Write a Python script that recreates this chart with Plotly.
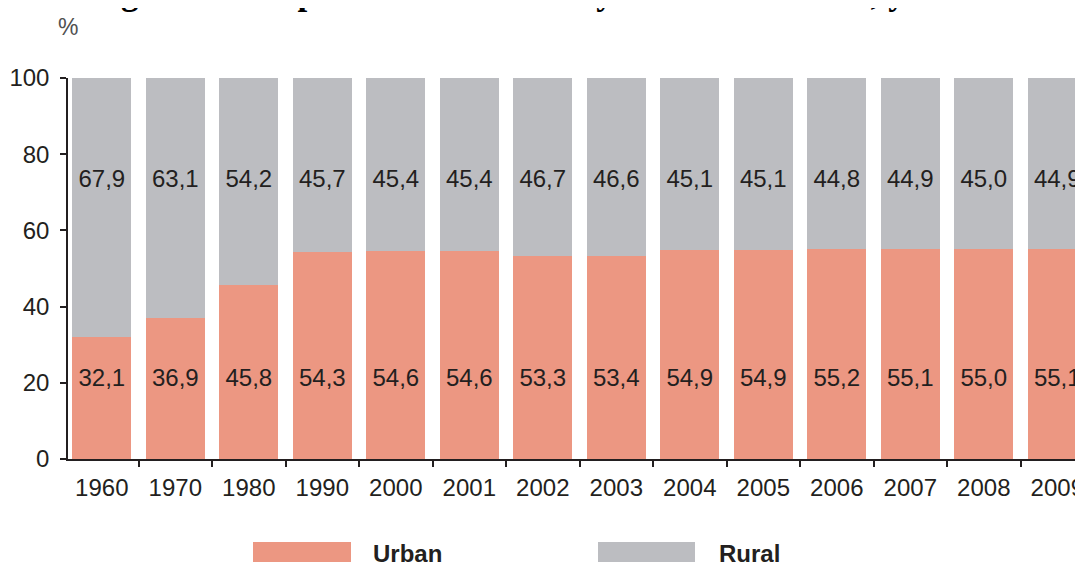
import plotly.graph_objects as go

years = ["1960", "1970", "1980", "1990", "2000", "2001", "2002", "2003",
         "2004", "2005", "2006", "2007", "2008", "2009"]
urban = [32.1, 36.9, 45.8, 54.3, 54.6, 54.6, 53.3, 53.4, 54.9, 54.9, 55.2, 55.1, 55.0, 55.1]
rural = [67.9, 63.1, 54.2, 45.7, 45.4, 45.4, 46.7, 46.6, 45.1, 45.1, 44.8, 44.9, 45.0, 44.9]
y_ticks = [0, 20, 40, 60, 80, 100]

URBAN_COLOR = "#EC9782"
RURAL_COLOR = "#BCBDC1"
TEXT_COLOR = "#231F20"
FONT = "Liberation Sans, Arial, sans-serif"

# the page body has an 8px margin: figure is placed at (8, 8) in the window
OFF = 8
W, H = 1083 - OFF, 562 - OFF
ML, MR, MT = 68 - OFF, 0, 78 - OFF
MB = H - (459 - OFF)
PW = W - ML - MR
PH = H - MT - MB


def fmt(v):
    return f"{v:.1f}".replace(".", ",")


def px_x(p):  # window pixel -> paper
    return (p - OFF - ML) / PW


def px_y(p):  # window pixel -> paper
    return (H - MB - (p - OFF)) / PH


fig = go.Figure()
fig.add_trace(go.Bar(x=years, y=urban, name="Urban", marker=dict(color=URBAN_COLOR, line=dict(width=0))))
fig.add_trace(go.Bar(x=years, y=rural, name="Rural", marker=dict(color=RURAL_COLOR, line=dict(width=0))))

fig.add_trace(go.Scatter(x=years, y=[20.8] * len(years), mode="text",
                         text=[fmt(v) for v in urban],
                         textfont=dict(family=FONT, size=24, color=TEXT_COLOR),
                         hoverinfo="skip"))
fig.add_trace(go.Scatter(x=years, y=[73.0] * len(years), mode="text",
                         text=[fmt(v) for v in rural],
                         textfont=dict(family=FONT, size=24, color=TEXT_COLOR),
                         hoverinfo="skip"))

fig.update_layout(
    width=W, height=H,
    margin=dict(l=ML, r=MR, t=MT, b=MB),
    barmode="stack", bargap=0.2,
    showlegend=False,
    plot_bgcolor="white", paper_bgcolor="white",
    font=dict(family=FONT, size=24, color=TEXT_COLOR),
)

fig.update_xaxes(
    type="category", range=[-0.46, 13.35],
    showline=True, linecolor=TEXT_COLOR, linewidth=1.5,
    ticks="outside", ticklen=6, tickwidth=1.5, tickcolor=TEXT_COLOR,
    tickson="boundaries", showgrid=False, zeroline=False,
    ticklabelstandoff=6,
    tickfont=dict(family=FONT, size=24, color=TEXT_COLOR),
)
fig.update_yaxes(
    range=[0, 100], tickvals=y_ticks,
    showline=True, linecolor=TEXT_COLOR, linewidth=1.5,
    ticks="outside", ticklen=6, tickwidth=1.5, tickcolor=TEXT_COLOR,
    showgrid=False, zeroline=False,
    ticklabelstandoff=6,
    tickfont=dict(family=FONT, size=24, color=TEXT_COLOR),
)

# "%" unit label
fig.add_annotation(text="%", xref="paper", yref="paper", x=px_x(68), y=px_y(27),
                   xanchor="center", yanchor="middle", showarrow=False,
                   font=dict(family=FONT, size=23, color="#505050"))

# clipped figure title at the very top (only the bottoms of the letters show)
fig.add_annotation(text="<b>Figure 1.3. Population structure by area in Romania, year-end</b>",
                   xref="paper", yref="paper", x=px_x(88), y=1, yshift=MT - 6,
                   xanchor="left", yanchor="bottom", showarrow=False,
                   font=dict(family="Liberation Serif, Times New Roman, serif", size=35, color="black"))

# legend drawn manually
for x0, x1, color, label, tx in [(253, 351, URBAN_COLOR, "Urban", 371),
                                 (598, 695, RURAL_COLOR, "Rural", 717)]:
    fig.add_shape(type="rect", xref="paper", yref="paper",
                  x0=px_x(x0), x1=px_x(x1), y0=px_y(575), y1=px_y(542),
                  fillcolor=color, line=dict(width=0), layer="above")
    fig.add_annotation(text=f"<b>{label}</b>", xref="paper", yref="paper",
                       x=px_x(tx), y=px_y(553), xanchor="left", yanchor="middle",
                       showarrow=False,
                       font=dict(family=FONT, size=24, color=TEXT_COLOR))

fig.write_html("out.html")
